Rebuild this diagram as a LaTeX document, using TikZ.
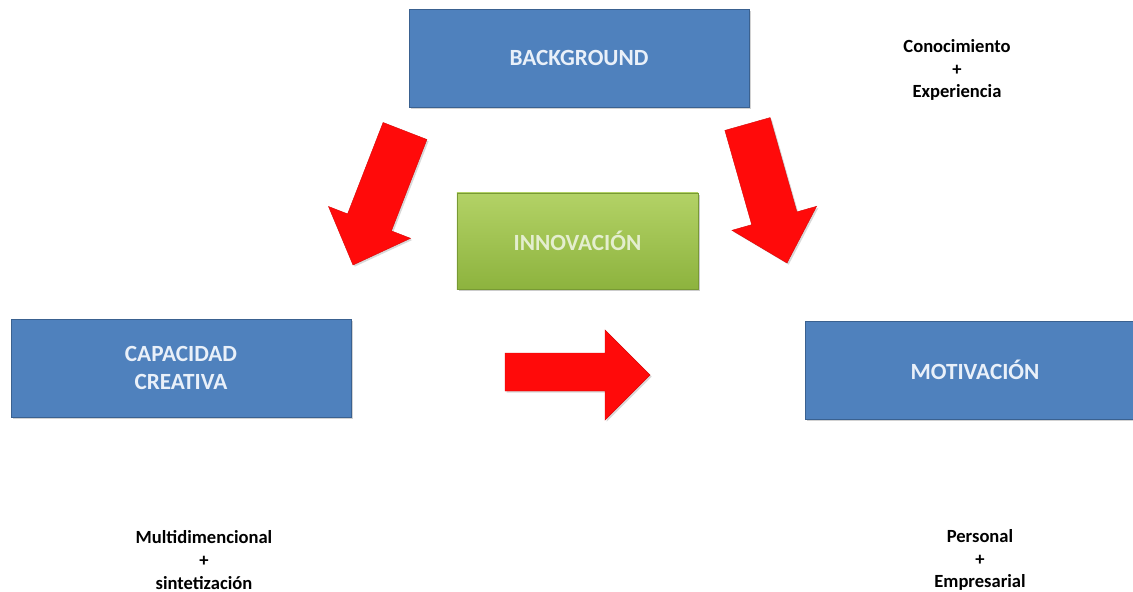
\documentclass[tikz,border=0pt]{standalone}
\usepackage{fontspec}
\setmainfont{Carlito}
\usetikzlibrary{shadows}
\definecolor{boxblue}{HTML}{4F81BD}
\definecolor{boxedge}{HTML}{3A6190}
\definecolor{boxtext}{HTML}{E9F0F9}
\definecolor{greentop}{HTML}{B3D266}
\definecolor{greenbot}{HTML}{8DB33E}
\definecolor{greenedge}{HTML}{789A34}
\definecolor{greentext}{HTML}{E4EECF}
\definecolor{arrowred}{HTML}{FF0A0A}
\tikzset{
  bluebox/.style={draw=boxedge, line width=0.6pt, fill=boxblue, inner sep=0pt,
    minimum width=8.5cm, minimum height=2.45cm, align=center, text=boxtext,
    font=\fontsize{16.5}{20}\selectfont\bfseries,
    drop shadow={opacity=0.35, shadow xshift=1.2pt, shadow yshift=-1.2pt}},
  greenbox/.style={draw=greenedge, line width=0.6pt, top color=greentop, bottom color=greenbot,
    inner sep=0pt, minimum width=6.025cm, minimum height=2.4cm, align=center, text=greentext,
    font=\fontsize{16.5}{20}\selectfont\bfseries,
    drop shadow={opacity=0.4, shadow xshift=1.5pt, shadow yshift=-1.5pt}},
  note/.style={align=center, text=black, font=\fontsize{13.2}{16.3}\selectfont\bfseries},
  bigarrow/.style={fill=arrowred, draw=arrowred!85!black, line width=0.3pt,
    drop shadow={opacity=0.3, shadow xshift=1.2pt, shadow yshift=-1.2pt}}
}
\begin{document}
\begin{tikzpicture}[x=0.025cm, y=-0.025cm]
  \clip (0,0) rectangle (1133,592);
  \fill[white] (0,0) rectangle (1133,592);

  % main boxes
  \node[bluebox] (background) at (579,58) {BACKGROUND};
  \node[greenbox] (innovacion) at (577.5,241) {INNOVACIÓN};
  \node[bluebox] (capacidad) at (181,368) {CAPACIDAD\\CREATIVA};
  \node[bluebox] (motivacion) at (975,370) {MOTIVACIÓN};

  % annotations
  \node[note] (conoc) at (957,70) {Conocimiento\\+\\Experiencia};
  \node[note] (multi) at (204,560) {Multidimencional\\+\\sintetización};
  \node[note] (perso) at (980,560) {Personal\\+\\Empresarial};

  % block arrows
  \path[bigarrow] (383.1,122.5) -- (426.9,139.5) -- (391.4,230.9) -- (410.5,238.3)
    -- (353,265) -- (328.5,206.5) -- (347.6,213.9) -- cycle;
  \path[bigarrow] (724.9,130.4) -- (770.1,117.6) -- (796.9,211.9) -- (816.6,206.3)
    -- (787,263) -- (732,230.3) -- (751.7,224.7) -- cycle;
  \path[bigarrow] (505,353) -- (605,353) -- (605,330) -- (650,375)
    -- (605,420) -- (605,391) -- (505,391) -- cycle;
\end{tikzpicture}
\end{document}
